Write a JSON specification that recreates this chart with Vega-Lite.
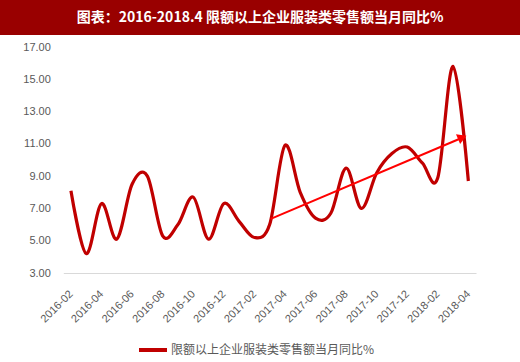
{
  "$schema": "https://vega.github.io/schema/vega-lite/v6.json",
  "padding": 0,
  "background": "white",
  "spacing": 6,
  "config": {
    "view": {"stroke": null},
    "font": "Liberation Sans"
  },
  "datasets": {
    "series": [
      {"idx": 0, "month": "2016-02", "v": 8.1, "s": "限额以上企业服装类零售额当月同比%"},
      {"idx": 1, "month": "2016-03", "v": 4.2, "s": "限额以上企业服装类零售额当月同比%"},
      {"idx": 2, "month": "2016-04", "v": 7.3, "s": "限额以上企业服装类零售额当月同比%"},
      {"idx": 3, "month": "2016-05", "v": 5.1, "s": "限额以上企业服装类零售额当月同比%"},
      {"idx": 4, "month": "2016-06", "v": 8.5, "s": "限额以上企业服装类零售额当月同比%"},
      {"idx": 5, "month": "2016-07", "v": 9.0, "s": "限额以上企业服装类零售额当月同比%"},
      {"idx": 6, "month": "2016-08", "v": 5.3, "s": "限额以上企业服装类零售额当月同比%"},
      {"idx": 7, "month": "2016-09", "v": 6.0, "s": "限额以上企业服装类零售额当月同比%"},
      {"idx": 8, "month": "2016-10", "v": 7.7, "s": "限额以上企业服装类零售额当月同比%"},
      {"idx": 9, "month": "2016-11", "v": 5.1, "s": "限额以上企业服装类零售额当月同比%"},
      {"idx": 10, "month": "2016-12", "v": 7.3, "s": "限额以上企业服装类零售额当月同比%"},
      {"idx": 11, "month": "2017-01", "v": 6.2, "s": "限额以上企业服装类零售额当月同比%"},
      {"idx": 12, "month": "2017-02", "v": 5.2, "s": "限额以上企业服装类零售额当月同比%"},
      {"idx": 13, "month": "2017-03", "v": 6.0, "s": "限额以上企业服装类零售额当月同比%"},
      {"idx": 14, "month": "2017-04", "v": 10.9, "s": "限额以上企业服装类零售额当月同比%"},
      {"idx": 15, "month": "2017-05", "v": 8.0, "s": "限额以上企业服装类零售额当月同比%"},
      {"idx": 16, "month": "2017-06", "v": 6.4, "s": "限额以上企业服装类零售额当月同比%"},
      {"idx": 17, "month": "2017-07", "v": 6.7, "s": "限额以上企业服装类零售额当月同比%"},
      {"idx": 18, "month": "2017-08", "v": 9.5, "s": "限额以上企业服装类零售额当月同比%"},
      {"idx": 19, "month": "2017-09", "v": 7.0, "s": "限额以上企业服装类零售额当月同比%"},
      {"idx": 20, "month": "2017-10", "v": 9.2, "s": "限额以上企业服装类零售额当月同比%"},
      {"idx": 21, "month": "2017-11", "v": 10.4, "s": "限额以上企业服装类零售额当月同比%"},
      {"idx": 22, "month": "2017-12", "v": 10.8, "s": "限额以上企业服装类零售额当月同比%"},
      {"idx": 23, "month": "2018-01", "v": 9.8, "s": "限额以上企业服装类零售额当月同比%"},
      {"idx": 24, "month": "2018-02", "v": 8.9, "s": "限额以上企业服装类零售额当月同比%"},
      {"idx": 25, "month": "2018-03", "v": 15.8, "s": "限额以上企业服装类零售额当月同比%"},
      {"idx": 26, "month": "2018-04", "v": 8.7, "s": "限额以上企业服装类零售额当月同比%"}
    ],
    "arrow": [
      {"idx": 13.07, "v": 6.35, "idx2": 25.4, "v2": 11.3}
    ],
    "arrowhead": [
      {"idx": 25.6, "v": 11.4}
    ],
    "heading": [
      {"t": "图表：2016-2018.4 限额以上企业服装类零售额当月同比%"}
    ]
  },
  "vconcat": [
    {
      "width": 520,
      "height": 35,
      "view": {"fill": "#990000", "stroke": null},
      "data": {"name": "heading"},
      "mark": {"type": "text", "color": "white", "font": "Noto Sans CJK SC", "fontSize": 14, "fontWeight": "bold", "align": "center", "baseline": "middle"},
      "encoding": {
        "text": {"field": "t"},
        "x": {"field": "t", "type": "nominal", "axis": null},
        "y": {"field": "t", "type": "nominal", "axis": null}
      }
    },
    {
      "width": 520,
      "height": 226,
      "encoding": {
        "x": {
          "field": "idx", "type": "quantitative",
          "scale": {"domain": [-0.5, 26.5], "nice": false, "zero": false, "range": [63.3, 476]},
          "axis": {
            "title": null, "values": [0, 2, 4, 6, 8, 10, 12, 14, 16, 18, 20, 22, 24, 26],
            "labelExpr": "(2016 + floor((datum.value + 1) / 12)) + '-' + (((datum.value + 1) % 12 + 1) < 10 ? '0' : '') + ((datum.value + 1) % 12 + 1)",
            "labelAngle": -45, "labelAlign": "right", "labelBaseline": "middle",
            "labelPadding": 19, "labelFontSize": 11, "labelColor": "#595959",
            "ticks": false, "grid": false, "domainColor": "#D9D9D9", "domainWidth": 1,
            "labelOverlap": false, "labelBound": false, "labelFlush": false
          }
        },
        "y": {
          "field": "v", "type": "quantitative",
          "scale": {"domain": [3, 17], "nice": false, "zero": false},
          "axis": {
            "title": null, "values": [3, 5, 7, 9, 11, 13, 15, 17], "format": ".2f",
            "labelFontSize": 11, "labelColor": "#595959", "labelPadding": 13,
            "ticks": false, "grid": false, "domain": false, "offset": -63.3,
            "labelOverlap": false, "labelFlush": false
          }
        }
      },
      "layer": [
        {
          "data": {"name": "series"},
          "mark": {"type": "line", "interpolate": "cardinal", "strokeWidth": 3.2},
          "encoding": {
            "color": {
              "field": "s", "type": "nominal",
              "scale": {"range": ["#C00000"]},
              "legend": {
                "title": null, "orient": "none", "legendX": 137, "legendY": 334,
                "symbolType": "stroke", "symbolSize": 784, "symbolStrokeWidth": 4,
                "labelFont": "Noto Sans CJK SC", "labelFontSize": 12, "labelColor": "#595959",
                "labelOffset": 2, "padding": 0, "labelLimit": 400
              }
            }
          }
        },
        {
          "data": {"name": "arrow"},
          "mark": {"type": "rule", "color": "#FF0000", "strokeWidth": 2},
          "encoding": {
            "x2": {"field": "idx2"},
            "y2": {"field": "v2"}
          }
        },
        {
          "data": {"name": "arrowhead"},
          "mark": {"type": "point", "shape": "triangle-up", "filled": true, "color": "#FF0000", "size": 110, "angle": 67, "opacity": 1, "strokeWidth": 0}
        }
      ]
    }
  ]
}
